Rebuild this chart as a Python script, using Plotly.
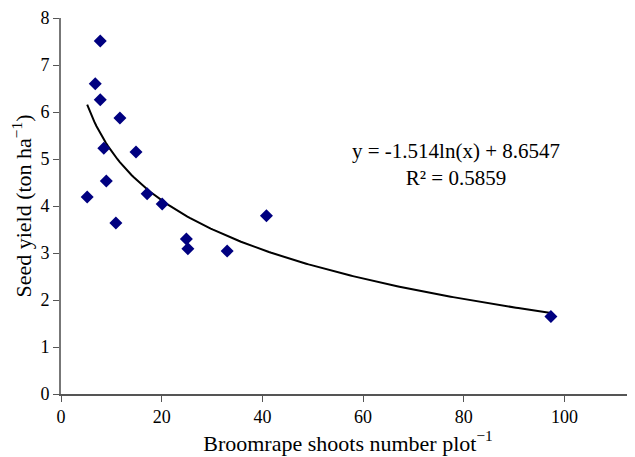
import numpy as np
import plotly.graph_objects as go

# broomrape shoots per plot vs seed yield
shoots = [5.2, 6.8, 7.8, 7.8, 8.5, 9.0, 10.9, 11.7, 14.9, 17.1, 20.1, 24.9, 25.2, 33.0, 40.8, 97.3]
yield_t = [4.19, 6.60, 7.51, 6.26, 5.23, 4.53, 3.64, 5.87, 5.15, 4.26, 4.04, 3.30, 3.09, 3.04, 3.79, 1.65]

# logarithmic trendline as reported on the chart
slope = -1.514
intercept = 8.6547
r2 = 0.5859

xs = np.linspace(min(shoots), max(shoots), 200)
ys = slope * np.log(xs) + intercept

font = "Liberation Serif, Times New Roman, serif"

fig = go.Figure()
fig.add_trace(go.Scatter(
    x=xs, y=ys, mode="lines",
    line=dict(color="black", width=2),
    showlegend=False, hoverinfo="skip"))
fig.add_trace(go.Scatter(
    x=shoots, y=yield_t, mode="markers",
    marker=dict(symbol="diamond", color="#000080", size=10),
    showlegend=False))

fig.add_annotation(
    x=0.689, y=0.61, xref="paper", yref="paper",
    xanchor="center", yanchor="middle",
    text=f"y = {slope}ln(x) + {intercept}<br>R² = {r2}",
    showarrow=False, align="center",
    font=dict(family=font, size=21, color="black"))

# page body has an 8px margin, so the figure is shrunk by that much
fig.update_layout(
    width=627, height=449,
    margin=dict(l=53, r=0, t=10, b=63),
    plot_bgcolor="white", paper_bgcolor="white",
    font=dict(family=font, size=18, color="black"),
    xaxis=dict(
        range=[0, 114], tickvals=[0, 20, 40, 60, 80, 100],
        showgrid=False, zeroline=False,
        showline=True, linecolor="#555", linewidth=1.5,
        ticks="outside", ticklen=6, tickcolor="#555",
        title=dict(text="Broomrape shoots number plot<sup>−1</sup>", standoff=6)),
    yaxis=dict(
        range=[0, 8], dtick=1,
        showgrid=False, zeroline=False,
        showline=True, linecolor="#777", linewidth=2,
        ticks="outside", ticklen=6, tickcolor="#555",
        title=dict(text="Seed yield (ton ha<sup>−1</sup>)", standoff=8)),
)

fig.write_html("out.html")
